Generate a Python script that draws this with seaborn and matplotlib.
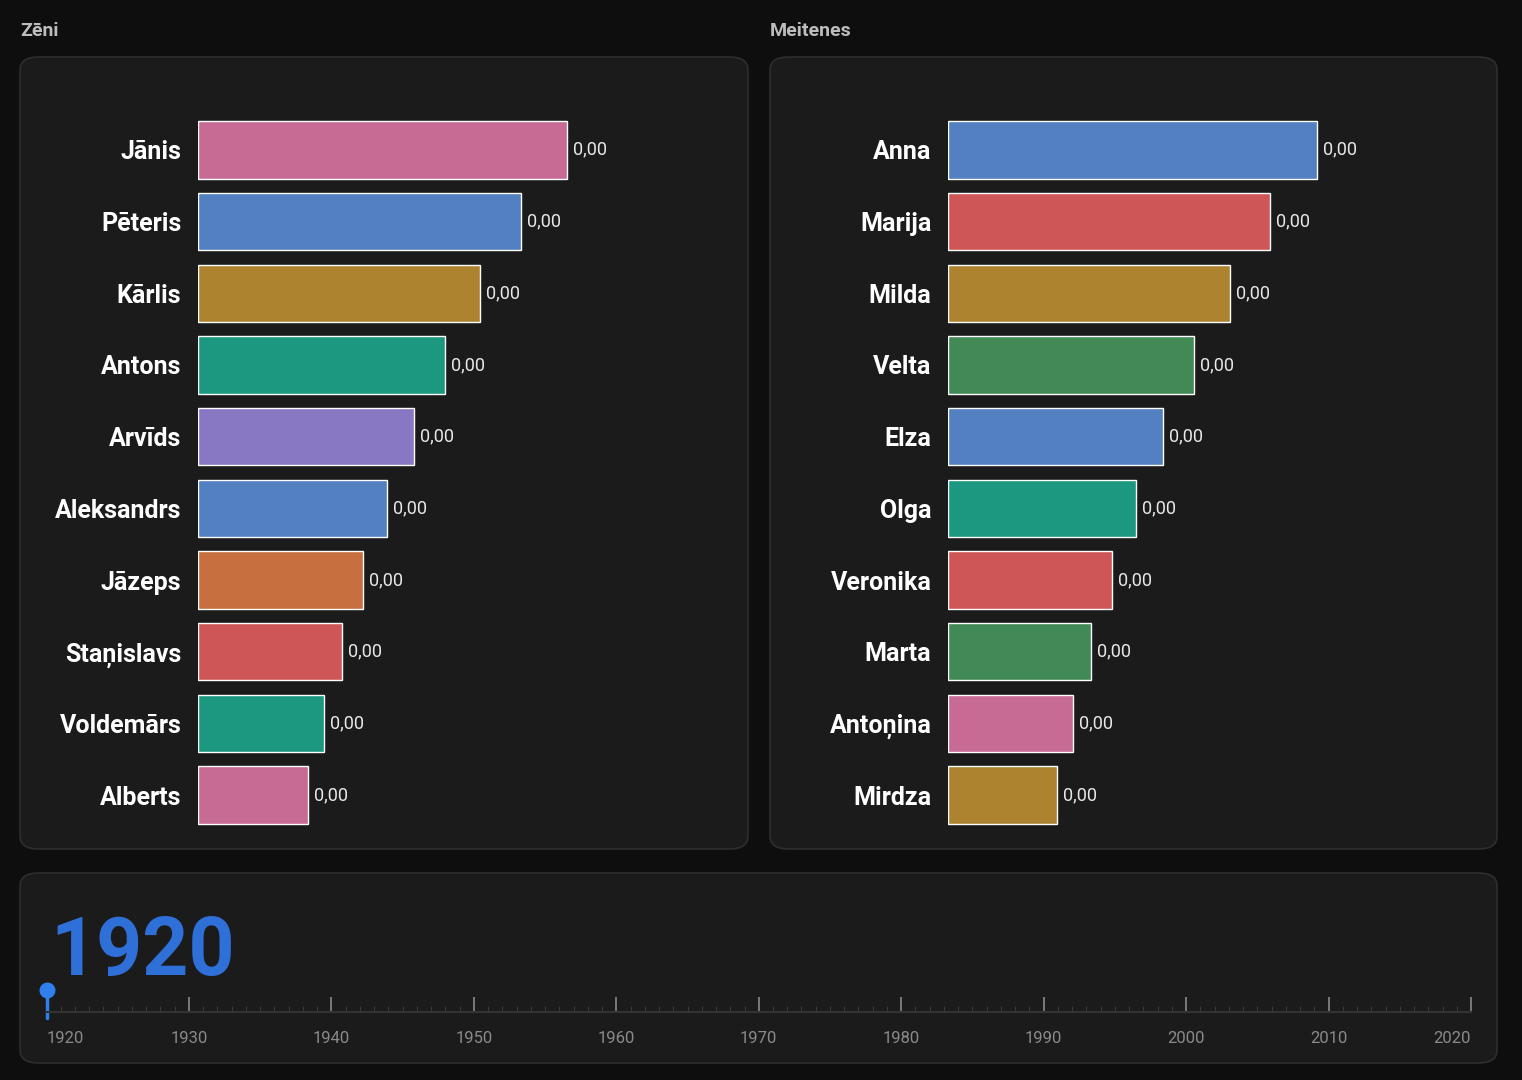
import matplotlib
matplotlib.use("Agg")
import matplotlib.pyplot as plt
import seaborn as sns
import pandas as pd
from matplotlib.patches import FancyBboxPatch
from matplotlib.ticker import MultipleLocator

boys = ["Jānis", "Pēteris", "Kārlis", "Antons", "Arvīds", "Aleksandrs", "Jāzeps", "Staņislavs", "Voldemārs", "Alberts"]
boys_vals = [369, 323, 282, 247, 216, 189, 165, 144, 126, 110]
boys_colors = ["#c76b94", "#5280c0", "#ad8330", "#1c9780", "#8878c4", "#5280c0", "#c76f3e", "#cf5656", "#1c9780", "#c76b94"]
girls = ["Anna", "Marija", "Milda", "Velta", "Elza", "Olga", "Veronika", "Marta", "Antoņina", "Mirdza"]
girls_vals = [369, 322, 282, 246, 215, 188, 164, 143, 125, 109]
girls_colors = ["#5280c0", "#cf5656", "#ad8330", "#418a55", "#5280c0", "#1c9780", "#cf5656", "#418a55", "#c76b94", "#ad8330"]
value_labels = ["0,00"] * 10
year = 1920
year_ticks = list(range(1920, 2021, 10))

sns.set_theme(style="dark")
plt.rcParams['font.family'] = ['Roboto', 'DejaVu Sans']
W, H = 1522, 1080
fig = plt.figure(figsize=(W / 100, H / 100), dpi=100, facecolor="#0e0e0e")

def fx(x): return x / W
def fy(y): return 1 - y / H
def rect(x0, y0, x1, y1): return [fx(x0), fy(y1), fx(x1 - x0), (y1 - y0) / H]

for (x0, y0, x1, y1) in [(20, 57, 748, 849), (770, 57, 1497, 849), (20, 873, 1497, 1063)]:
    fig.patches.append(FancyBboxPatch((fx(x0), fy(y1)), fx(x1 - x0), (y1 - y0) / H,
                                      boxstyle="round,pad=0,rounding_size=0.012",
                                      transform=fig.transFigure, facecolor="#1b1b1b",
                                      edgecolor="#2e2e2e", linewidth=1.2, zorder=-10))

fig.text(fx(20), fy(31), "Zēni", color="#bdbdbd", fontsize=14, fontweight="bold", va="center")
fig.text(fx(770), fy(31), "Meitenes", color="#bdbdbd", fontsize=14, fontweight="bold", va="center")

def bars(x0, names, vals, colors):
    ax = fig.add_axes(rect(x0, 114, x0 + 542, 831))
    ax.set_zorder(5)
    df = pd.DataFrame({"name": names, "val": vals})
    sns.barplot(data=df, x="val", y="name", hue="name", palette=colors, width=0.8,
                legend=False, ax=ax, saturation=1)
    ax.set_xlim(0, 542)
    ax.set_facecolor("none")
    for s in ax.spines.values():
        s.set_visible(False)
    ax.set_xticks([])
    ax.set_xlabel(""); ax.set_ylabel("")
    ax.tick_params(axis="y", length=0, pad=12)
    for t in ax.get_yticklabels():
        t.set_color("white"); t.set_fontsize(18); t.set_fontweight("bold")
    for i, v in enumerate(vals):
        ax.text(v + 6, i, value_labels[i], color="#e8e8e8", fontsize=13, va="center")

bars(198, boys, boys_vals, boys_colors)
bars(948, girls, girls_vals, girls_colors)

fig.text(fx(50), fy(953), str(year), color="#2f6fd8", fontsize=58, fontweight="bold", va="center")

ax = fig.add_axes(rect(46.5, 972, 1471, 1012))
ax.set_zorder(5)
ax.set_facecolor("none")
ax.set_xlim(1920, 2020)
ax.set_ylim(0, 40)
for k, s in ax.spines.items():
    s.set_visible(k == "bottom")
ax.spines["bottom"].set_color("#333333")
ax.spines["bottom"].set_linewidth(1.5)
ax.set_yticks([])
ax.set_xticks(year_ticks)
ax.xaxis.set_minor_locator(MultipleLocator(1))
ax.tick_params(axis="x", which="major", direction="in", length=11, width=1.2, color="#8a8a8a",
               labelcolor="#8a8a8a", labelsize=12, pad=14, bottom=True)
ax.tick_params(axis="x", which="minor", direction="in", length=4, width=0.8, color="#3a3a3a", bottom=True)
labels = ax.get_xticklabels()
labels[0].set_ha("left"); labels[-1].set_ha("right")
ax.plot([year, year], [22, -6], color="#2f80ed", lw=2.5, clip_on=False)
ax.scatter([year], [22], s=110, color="#2f80ed", clip_on=False, zorder=5)

fig.savefig("out.png", dpi=100, facecolor=fig.get_facecolor())
